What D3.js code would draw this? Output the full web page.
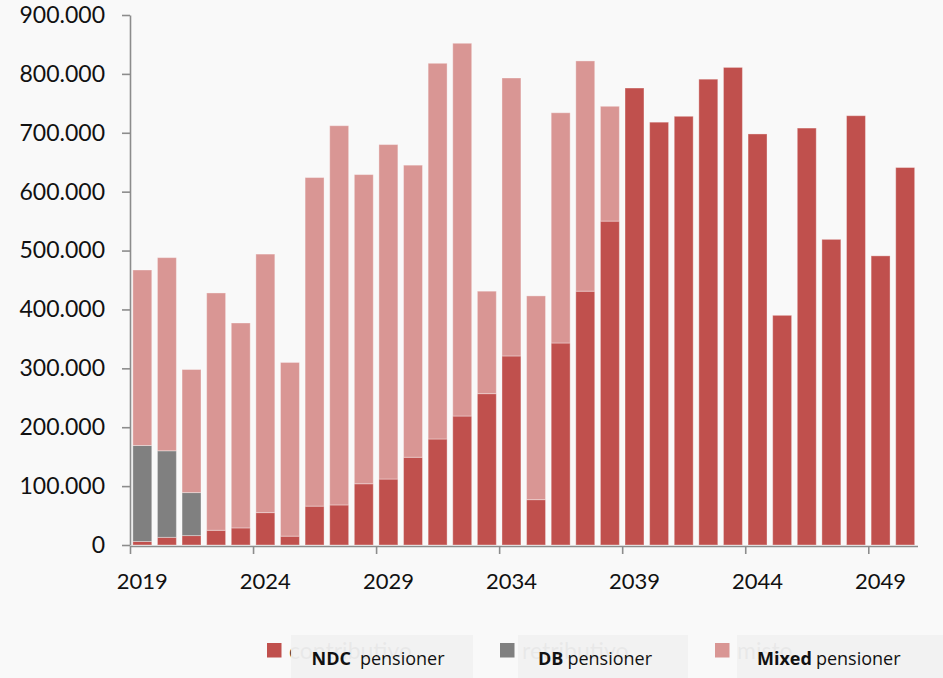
<!DOCTYPE html>
<html>
<head>
<meta charset="utf-8">
<script src="https://cdn.jsdelivr.net/npm/d3@7"></script>
<style>
  html, body { margin: 0; padding: 0; background: #f9f9f9; }
  svg { display: block; font-family: "Lato", "Open Sans", sans-serif; }
</style>
</head>
<body>
<svg id="chart" width="943" height="678"></svg>
<script>
// Pensioners by regime, per year
const years = d3.range(2019, 2051);
const ndc = [6000, 13000, 16000, 25000, 29000, 55000, 15000, 66000, 68000, 104000, 112000,
             149000, 180000, 219000, 257000, 321000, 77000, 343000, 431000, 550000, 776000,
             718000, 728000, 791000, 811000, 698000, 390000, 708000, 519000, 729000, 491000, 641000];
const db = [163000, 147000, 73000, 0, 0, 0, 0, 0, 0, 0, 0,
            0, 0, 0, 0, 0, 0, 0, 0, 0, 0,
            0, 0, 0, 0, 0, 0, 0, 0, 0, 0, 0];
const mixed = [298000, 328000, 209000, 403000, 348000, 439000, 295000, 558000, 644000, 525000, 568000,
               496000, 638000, 633000, 174000, 472000, 346000, 391000, 391000, 195000, 0,
               0, 0, 0, 0, 0, 0, 0, 0, 0, 0, 0];
const yTicks = [0, 100000, 200000, 300000, 400000, 500000, 600000, 700000, 800000, 900000];
const xTickYears = [2019, 2024, 2029, 2034, 2039, 2044, 2049];

const seriesKeys = ["ndc", "db", "mixed"];
const seriesLabels = ["NDC", "DB", "Mixed"];
const seriesOriginal = ["contributivo", "retributivo", "misto"];
const seriesColors = ["#c0504d", "#808080", "#d99694"];

const rows = years.map((yr, i) => ({ year: yr, ndc: ndc[i], db: db[i], mixed: mixed[i] }));

const svg = d3.select("#chart");
const plotLeft = 130, plotRight = 917.5, plotTop = 15, plotBottom = 545;

const x = d3.scaleBand().domain(years).range([plotLeft, plotRight]).paddingInner(0.23).paddingOuter(0.115);
const xEdge = d3.scaleLinear().domain([2019, 2051]).range([plotLeft, plotRight]);
const y = d3.scaleLinear().domain([0, 900000]).range([plotBottom, plotTop]);

const locale = d3.formatLocale({ decimal: ",", thousands: ".", grouping: [3], currency: ["", ""] });
const fmt = locale.format(",");

// stacked bars
const stack = d3.stack().keys(seriesKeys)(rows);
svg.append("g").selectAll("g")
  .data(stack)
  .join("g")
  .attr("fill", (d, i) => seriesColors[i])
  .selectAll("rect")
  .data(d => d.filter(s => s[1] - s[0] > 0))
  .join("rect")
  .attr("x", d => x(d.data.year))
  .attr("width", x.bandwidth())
  .attr("y", d => y(d[1]))
  .attr("height", d => y(d[0]) - y(d[1]))
  .attr("stroke", "#ffffff")
  .attr("stroke-opacity", 0.35)
  .attr("stroke-width", 1);

// y axis
const yAxis = svg.append("g")
  .attr("transform", `translate(${plotLeft},0)`)
  .call(d3.axisLeft(y).tickValues(yTicks).tickFormat(fmt).tickSize(8).tickSizeOuter(0).tickPadding(17));
yAxis.selectAll("path, line").attr("stroke", "#8c8c8c").attr("stroke-width", 1.6);
yAxis.selectAll("text").attr("font-size", 23).attr("fill", "#111").attr("font-family", "Lato, 'Open Sans', sans-serif");

// x axis: ticks on category boundaries, labels centred on the bars
const xAxis = svg.append("g")
  .attr("transform", `translate(0,${plotBottom + 1})`)
  .call(d3.axisBottom(xEdge).tickValues(xTickYears).tickSize(8).tickSizeOuter(0).tickFormat(""));
xAxis.selectAll("path, line").attr("stroke", "#8c8c8c").attr("stroke-width", 1.6);

svg.append("g").selectAll("text")
  .data(xTickYears)
  .join("text")
  .attr("x", d => x(d) + x.bandwidth() / 2)
  .attr("y", 589)
  .attr("text-anchor", "middle")
  .attr("font-size", 22)
  .attr("fill", "#111")
  .text(d => d);

// legend: swatch, original caption faintly showing through a translucent label box
const legendLayout = [
  { sq: 267, box: 291, boxW: 182, txt: 311.5 },
  { sq: 500, box: 518, boxW: 170, txt: 538 },
  { sq: 715, box: 737, boxW: 206, txt: 757 }
];
const legend = svg.append("g");
legendLayout.forEach((L, i) => {
  legend.append("rect")
    .attr("x", L.sq).attr("y", 643).attr("width", 14.5).attr("height", 14.5)
    .attr("fill", seriesColors[i]);
  legend.append("text")
    .attr("x", L.sq + 22).attr("y", 659)
    .attr("font-size", 23).attr("fill", "#404040")
    .text(seriesOriginal[i]);
  legend.append("rect")
    .attr("x", L.box).attr("y", 635).attr("width", L.boxW).attr("height", 50)
    .attr("fill", "#f1f1f1").attr("fill-opacity", 0.95);
  const t = legend.append("text")
    .attr("x", L.txt).attr("y", 665)
    .attr("font-family", "'Open Sans', Lato, sans-serif")
    .attr("font-size", 18).attr("fill", "#111");
  t.append("tspan").attr("font-weight", "bold").text(seriesLabels[i]);
  t.append("tspan").attr("dx", i === 0 ? 9 : 4).text("pensioner");
});
</script>
</body>
</html>
